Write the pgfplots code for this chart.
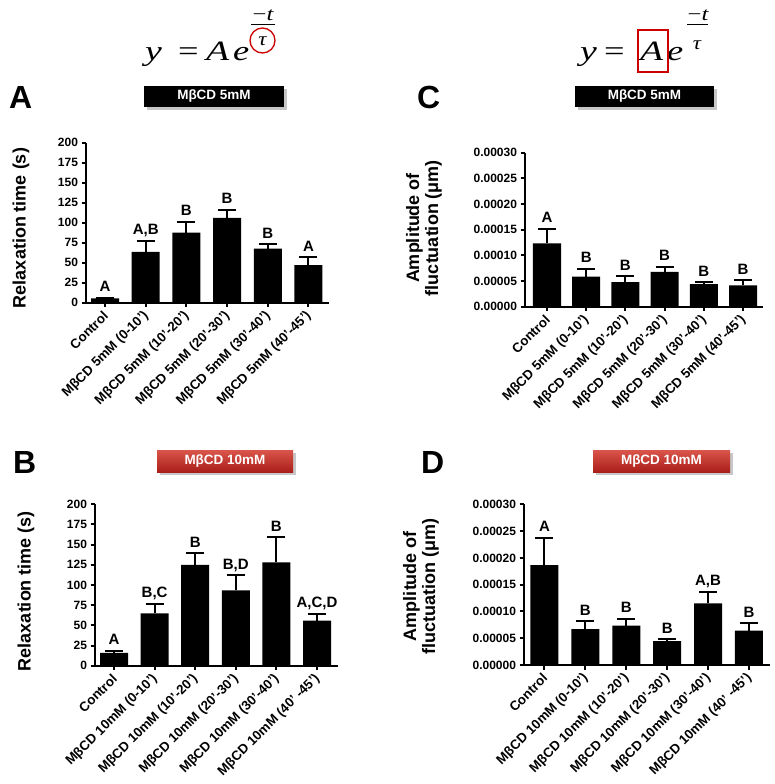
\documentclass[border=0pt]{standalone}
\usepackage{fontspec}
\setmainfont{Liberation Sans}
\newfontfamily\eqfont{Liberation Serif}
\usepackage{graphicx}
\usepackage{pgfplots}
\pgfplotsset{compat=1.18}
\usepackage{pgfplotstable}
\newcommand\fs[1]{\fontsize{#1}{#1}\selectfont}
\definecolor{bantop}{RGB}{218,85,75}
\definecolor{banbot}{RGB}{170,30,25}

\pgfplotstableread{
x y e lab
0 5.5 1.0 A
1 63.5 14.0 A,B
2 87.5 13.5 B
3 106 10.0 B
4 67.5 5.5 B
5 47 9.7 A
}\dataA
\pgfplotstableread{
x y e lab
0 16 2.5 A
1 65 11.5 B,C
2 125 14.5 B
3 93.5 18.5 B,D
4 128 31 B
5 56 8.5 A,C,D
}\dataB
\pgfplotstableread{
x y e lab
0 0.0001235 0.0000280 A
1 0.0000584 0.0000156 B
2 0.0000480 0.0000110 B
3 0.0000680 0.0000100 B
4 0.0000440 0.0000040 B
5 0.0000417 0.0000103 B
}\dataC
\pgfplotstableread{
x y e lab
0 0.0001866 0.0000510 A
1 0.0000670 0.0000150 B
2 0.0000733 0.0000130 B
3 0.0000448 0.0000037 B
4 0.0001150 0.0000218 A,B
5 0.0000640 0.0000138 B
}\dataD

\pgfplotsset{
  panel/.style={
    scale only axis, anchor=south west, clip=false,
    axis x line*=bottom, axis y line*=left,
    axis line style={line width=2.2pt,-},
    every tick/.style={black,line width=2pt},
    tick align=outside, major tick length=4.5pt,
    xtick={0,...,5}, ymin=0,
    /pgf/number format/assume math mode=true,
    yticklabel style={font=\fs{12}\bfseries},
    xticklabel style={xshift=3pt, yshift=-4pt, rotate=45, anchor=east, font=\fs{13.3}\bfseries},
  },
  relax/.style={ymax=200, ytick={0,25,...,200}},
  ampl/.style={ymax=0.0003, scaled y ticks=false,
    ytick={0,0.00005,0.0001,0.00015,0.0002,0.00025,0.0003},
    yticklabels={0.00000,0.00005,0.00010,0.00015,0.00020,0.00025,0.00030}},
  barplot/.style={ybar, bar width=28pt, fill=black, draw=none,
    error bars/.cd, y dir=plus, y explicit,
    error bar style={line width=2pt, black},
    error mark options={rotate=90, mark size=9pt, line width=2pt, black}},
  letters/.style={draw=none, mark=none, nodes near coords,
    point meta=explicit symbolic,
    every node near coord/.append style={anchor=base, yshift=6pt, font=\fs{15}\bfseries, black}},
}

\begin{document}
\begin{tikzpicture}[x=1pt,y=1pt]
\path[use as bounding box] (0,0) rectangle (774,-784);

% ---- equations ----
\node[anchor=base west, inner sep=0] at (145,-60) {\scalebox{1.35}[1]{\eqfont\fs{28}\itshape y}};
\node[anchor=base west, inner sep=0] at (178,-60) {\scalebox{1.3}[1]{\eqfont\fs{28}=}};
\node[anchor=base west, inner sep=0] at (206,-60) {\scalebox{1.35}[1]{\eqfont\fs{28}\itshape A}};
\node[anchor=base west, inner sep=0] at (233,-60) {\scalebox{1.3}[1]{\eqfont\fs{28}\itshape e}};
\node[anchor=base, inner sep=0] at (263,-21) {\scalebox{1.3}[1]{\eqfont\fs{19}−\itshape t}};
\draw[line width=0.9pt] (251,-24.5) -- (275,-24.5);
\node[inner sep=0] at (262.5,-41) {\scalebox{1.2}[1]{\eqfont\fs{19}\itshape τ}};
\draw[red!80!black, line width=1.3pt] (262.5,-40.5) circle (12.5);

\node[anchor=base west, inner sep=0] at (580,-60) {\scalebox{1.35}[1]{\eqfont\fs{28}\itshape y}};
\node[anchor=base west, inner sep=0] at (604,-60) {\scalebox{1.3}[1]{\eqfont\fs{28}=}};
\node[anchor=base west, inner sep=0] at (640,-60) {\scalebox{1.35}[1]{\eqfont\fs{28}\itshape A}};
\node[anchor=base west, inner sep=0] at (667,-60) {\scalebox{1.3}[1]{\eqfont\fs{28}\itshape e}};
\node[anchor=base, inner sep=0] at (698,-21) {\scalebox{1.3}[1]{\eqfont\fs{19}−\itshape t}};
\draw[line width=0.9pt] (687,-24.5) -- (708,-24.5);
\node[inner sep=0] at (697,-45) {\scalebox{1.2}[1]{\eqfont\fs{19}\itshape τ}};
\draw[red!80!black, line width=1.2pt] (638,-30) rectangle (668,-72);

% ---- panel letters ----
\node[anchor=base west, inner sep=0, font=\fs{32}\bfseries] at (9,-108) {A};
\node[anchor=base west, inner sep=0, font=\fs{32}\bfseries] at (417,-108) {C};
\node[anchor=base west, inner sep=0, font=\fs{32}\bfseries] at (13,-473) {B};
\node[anchor=base west, inner sep=0, font=\fs{32}\bfseries] at (421,-473) {D};

% ---- banners ----
\fill[black!22] (146.5,-88.5) rectangle (286.5,-109.5);
\fill[black] (144,-86) rectangle (284,-107);
\node[white, font=\fs{13.5}\bfseries] at (214,-96.5) {MβCD 5mM};
\fill[black!22] (577.5,-88.5) rectangle (716.5,-109.5);
\fill[black] (575,-86) rectangle (714,-107);
\node[white, font=\fs{13.5}\bfseries] at (644.5,-96.5) {MβCD 5mM};
\fill[black!22] (159.5,-452.5) rectangle (295.5,-474.5);
\shade[top color=bantop, bottom color=banbot] (157,-450) rectangle (293,-472);
\node[white, font=\fs{13.5}\bfseries] at (225,-461) {MβCD 10mM};
\fill[black!22] (595.5,-452.5) rectangle (732.5,-474.5);
\shade[top color=bantop, bottom color=banbot] (593,-450) rectangle (730,-472);
\node[white, font=\fs{13.5}\bfseries] at (661.5,-461) {MβCD 10mM};

% ---- y labels ----
\node[rotate=90, font=\fs{18}\bfseries] at (21,-228) {Relaxation time (s)};
\node[rotate=90, font=\fs{18}\bfseries] at (26,-591) {Relaxation time (s)};
\node[rotate=90, font=\fs{18}\bfseries, align=center, inner sep=0] at (424,-228) {Amplitude of\\[1pt]fluctuation (μm)};
\node[rotate=90, font=\fs{18}\bfseries, align=center, inner sep=0] at (421,-586) {Amplitude of\\[1pt]fluctuation (μm)};

% ---- Panel A ----
\begin{axis}[panel, relax, at={(86pt,-302.7pt)}, width=243pt, height=160pt,
  xmin=-0.468, xmax=5.505,
  xticklabels={Control,MβCD 5mM (0-10'),MβCD 5mM (10'-20'),MβCD 5mM (20'-30'),MβCD 5mM (30'-40'),MβCD 5mM (40'-45')}]
\addplot[barplot] table[x=x,y=y,y error=e] {\dataA};
\addplot[letters] table[x=x,y expr=\thisrow{y}+\thisrow{e},meta=lab] {\dataA};
\end{axis}

% ---- Panel B ----
\begin{axis}[panel, relax, at={(95pt,-665.7pt)}, width=243pt, height=161.4pt,
  xmin=-0.468, xmax=5.517,
  xticklabels={Control,MβCD 10mM (0-10'),MβCD 10mM (10'-20'),MβCD 10mM (20'-30'),MβCD 10mM (30'-40'),MβCD 10mM (40' -45')}]
\addplot[barplot] table[x=x,y=y,y error=e] {\dataB};
\addplot[letters] table[x=x,y expr=\thisrow{y}+\thisrow{e},meta=lab] {\dataB};
\end{axis}

% ---- Panel C ----
\begin{axis}[panel, ampl, at={(525pt,-306.7pt)}, width=238pt, height=154pt,
  xmin=-0.561, xmax=5.51,
  xticklabels={Control,MβCD 5mM (0-10'),MβCD 5mM (10'-20'),MβCD 5mM (20'-30'),MβCD 5mM (30'-40'),MβCD 5mM (40'-45')}]
\addplot[barplot] table[x=x,y=y,y error=e] {\dataC};
\addplot[letters] table[x=x,y expr=\thisrow{y}+\thisrow{e},meta=lab] {\dataC};
\end{axis}

% ---- Panel D ----
\begin{axis}[panel, ampl, at={(524pt,-665pt)}, width=246pt, height=160.7pt,
  xmin=-0.5, xmax=5.514,
  xticklabels={Control,MβCD 10mM (0-10'),MβCD 10mM (10'-20'),MβCD 10mM (20'-30'),MβCD 10mM (30'-40'),MβCD 10mM (40' -45')}]
\addplot[barplot] table[x=x,y=y,y error=e] {\dataD};
\addplot[letters] table[x=x,y expr=\thisrow{y}+\thisrow{e},meta=lab] {\dataD};
\end{axis}
\end{tikzpicture}
\end{document}
